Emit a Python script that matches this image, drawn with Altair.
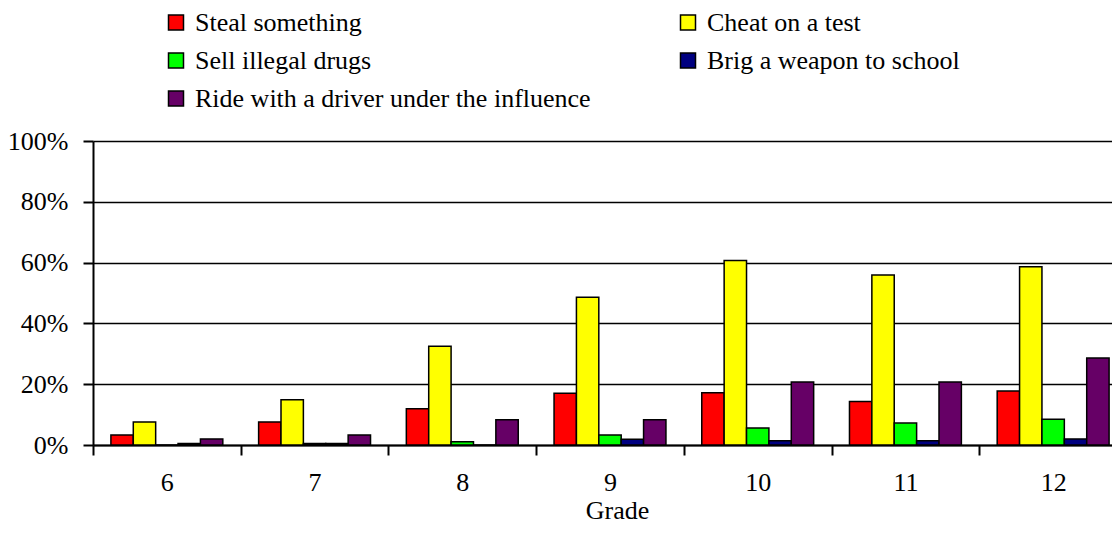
import altair as alt
import pandas as pd

grades = ["6", "7", "8", "9", "10", "11", "12"]
behaviors = [
    "Steal something",
    "Cheat on a test",
    "Sell illegal drugs",
    "Brig a weapon to school",
    "Ride with a driver under the influence",
]
steal = [3.3, 7.6, 11.9, 17.0, 17.2, 14.3, 17.8]
cheat = [7.6, 14.9, 32.5, 48.6, 60.7, 55.9, 58.6]
sell = [0.0, 0.5, 1.1, 3.3, 5.6, 7.2, 8.5]
weapon = [0.5, 0.5, 0.0, 1.9, 1.4, 1.4, 2.0]
ride = [2.0, 3.3, 8.3, 8.3, 20.7, 20.7, 28.6]
colors = ["#FF0000", "#FFFF00", "#00FF00", "#000080", "#660066"]
y_ticks = [0, 20, 40, 60, 80, 100]

rows = []
for name, vals in zip(behaviors, [steal, cheat, sell, weapon, ride]):
    for g, v in zip(grades, vals):
        rows.append({"Grade": g, "Behavior": name, "Percent": v})
df = pd.DataFrame(rows)

FONT = "Liberation Serif"

chart = (
    alt.Chart(df)
    .mark_bar(stroke="black", strokeWidth=1.5)
    .encode(
        x=alt.X(
            "Grade:N",
            sort=grades,
            scale=alt.Scale(paddingInner=0, paddingOuter=0),
            axis=alt.Axis(
                title="Grade",
                labelAngle=0,
                tickBand="extent",
                tickSize=10,
                tickWidth=2,
                tickColor="black",
                domainColor="black",
                domainWidth=2,
                labelFont=FONT,
                labelFontSize=26,
                labelColor="black",
                labelPadding=14,
                titleFont=FONT,
                titleFontSize=26,
                titleFontWeight="normal",
                titleColor="black",
                titleBaseline="alphabetic",
                titleY=73.5,
                titleX=524,
                grid=False,
            ),
        ),
        xOffset=alt.XOffset(
            "Behavior:N",
            sort=behaviors,
            scale=alt.Scale(domain=behaviors, paddingInner=0, paddingOuter=0.8),
        ),
        y=alt.Y(
            "Percent:Q",
            scale=alt.Scale(domain=[0, 100]),
            axis=alt.Axis(
                title=None,
                values=y_ticks,
                labelExpr="datum.value + '%'",
                tickSize=10,
                tickWidth=2,
                tickColor="black",
                domainColor="black",
                domainWidth=2,
                grid=True,
                gridColor="black",
                gridWidth=1.5,
                labelFont=FONT,
                labelFontSize=26,
                labelColor="black",
                labelPadding=15,
            ),
        ),
        color=alt.Color(
            "Behavior:N",
            sort=behaviors,
            scale=alt.Scale(domain=behaviors, range=colors),
            legend=alt.Legend(
                title=None,
                orient="none",
                direction="horizontal",
                legendX=70,
                legendY=-131.5,
                columns=2,
                columnPadding=84,
                rowPadding=12,
                symbolType="square",
                symbolSize=225,
                symbolStrokeColor="black",
                symbolStrokeWidth=1.5,
                symbolOpacity=1,
                labelFont=FONT,
                labelFontSize=26,
                labelColor="black",
                labelOffset=6,
                labelLimit=0,
            ),
        ),
    )
    .properties(
        width=1034,
        height=304,
        padding={"left": 85, "top": 133, "right": -15, "bottom": 79},
        autosize=alt.AutoSizeParams(type="none"),
    )
    .configure_view(stroke="transparent")
)

chart.save("out.html", embed_options={"renderer": "svg", "actions": False})
